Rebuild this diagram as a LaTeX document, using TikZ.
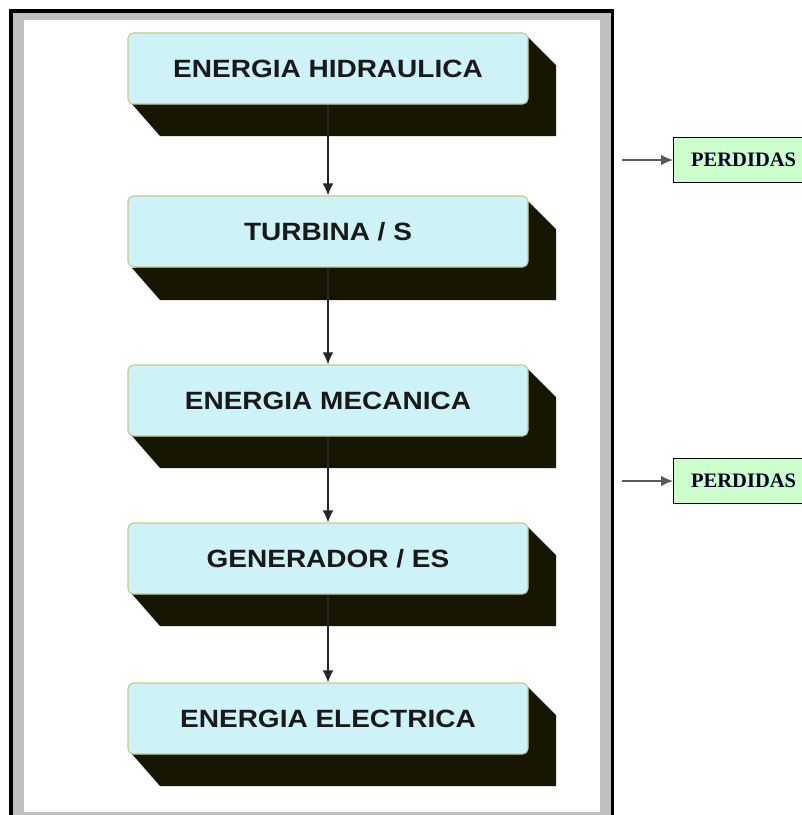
\documentclass[tikz,border=0pt]{standalone}
\usepackage{fontspec}
\newfontfamily\boxfont[FakeStretch=1.12]{Liberation Sans Bold}
\newfontfamily\lossfont{Liberation Serif Bold}
\usetikzlibrary{arrows.meta}
\usetikzlibrary{positioning}

\definecolor{facecyan}{HTML}{CDF3F9}
\definecolor{faceedge}{HTML}{C8C88A}
\definecolor{shadowdark}{HTML}{161603}
\definecolor{lossgreen}{HTML}{CCFFCC}
\definecolor{framegray}{HTML}{C0C0C0}

\tikzset{
  stage/.style={rectangle,rounded corners=4pt,draw=faceedge,thick,fill=facecyan,
    minimum width=300pt,minimum height=53.25pt,inner sep=0pt,
    font=\boxfont\fontsize{18.75}{20}\selectfont,text=black!90},
  stageshadow/.style={fill=shadowdark},
  loss/.style={rectangle,draw=black,line width=0.9pt,fill=lossgreen,anchor=west,
    minimum width=105pt,minimum height=33.75pt,inner sep=0pt,
    font=\lossfont\fontsize{15.4}{16}\selectfont,text=black!85!blue},
  flow/.style={-{Latex[length=9pt,width=8pt]},black!85,line width=1pt},
  lossflow/.style={-{Latex[length=9pt,width=8pt]},black!65,line width=1pt}
}

\begin{document}
\begin{tikzpicture}[x=0.75pt,y=-0.75pt]
\useasboundingbox (0,0) rectangle (802,815);

% marco
\fill[black] (9,9) rectangle (614,830);
\fill[framegray] (12.5,12.5) rectangle (610.5,830);
\fill[white] (24,20) rectangle (600,812);

% sombras
\fill[stageshadow] (132,104) -- (160,136) -- (556,136) -- (556,65) -- (528,37) -- cycle;
\fill[stageshadow] (132,268) -- (160,300) -- (556,300) -- (556,229) -- (528,201) -- cycle;
\fill[stageshadow] (132,436) -- (160,468) -- (556,468) -- (556,397) -- (528,369) -- cycle;
\fill[stageshadow] (132,594) -- (160,626) -- (556,626) -- (556,555) -- (528,527) -- cycle;
\fill[stageshadow] (132,754) -- (160,786) -- (556,786) -- (556,715) -- (528,687) -- cycle;

% etapas
\node[stage] (hidraulica) at (328,68.5) {ENERGIA HIDRAULICA};
\node[stage] (turbina) at (328,231.5) {TURBINA / S};
\node[stage] (mecanica) at (328,400.5) {ENERGIA MECANICA};
\node[stage] (generador) at (328,558.5) {GENERADOR / ES};
\node[stage] (electrica) at (328,718.5) {ENERGIA ELECTRICA};

\draw[flow] (hidraulica) -- (turbina);
\draw[flow] (turbina) -- (mecanica);
\draw[flow] (mecanica) -- (generador);
\draw[flow] (generador) -- (electrica);

% perdidas
\node[loss] (perdidasA) at (673,160) {PERDIDAS};
\node[loss] (perdidasB) at (673,481) {PERDIDAS};
\coordinate (inA) at (622,160);
\coordinate (inB) at (622,481);
\draw[lossflow] (inA) -- (perdidasA);
\draw[lossflow] (inB) -- (perdidasB);

\end{tikzpicture}
\end{document}
